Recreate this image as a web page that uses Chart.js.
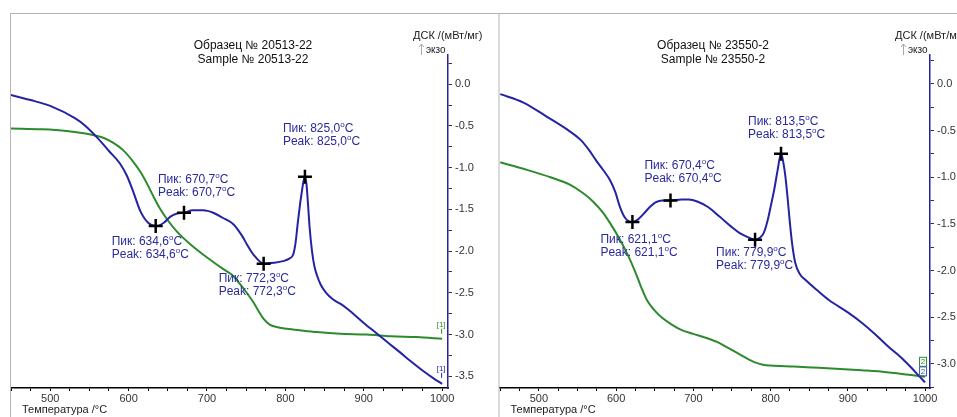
<!DOCTYPE html>
<html>
<head>
<meta charset="utf-8">
<script src="https://cdn.jsdelivr.net/npm/chart.js@4.4.1/dist/chart.umd.min.js"></script>
<style>
  body { margin: 0; background: #fff; }
  #wrap { position: relative; width: 957px; height: 417px; overflow: hidden; }
  canvas { position: absolute; top: 0; }
</style>
</head>
<body>
<div id="wrap">
  <canvas id="dscLeft" width="490" height="417" style="left:0"></canvas>
  <canvas id="dscRight" width="467" height="417" style="left:490px"></canvas>
</div>
<script>
// Sample 20513-22 (left panel)
const tempA = [450, 475, 500, 532, 545, 560, 575, 589, 598, 606, 615, 625, 634.6, 645, 653, 662, 670.7, 682, 695, 708, 720, 734, 745, 751, 760, 772.3, 785, 797, 805, 810, 813, 816, 819, 821, 823, 825, 827, 829, 831, 834, 837, 840, 845, 852, 861, 870, 879, 900, 917, 930, 946, 960, 975, 990, 1000];
const dscA = [-0.13, -0.19, -0.26, -0.41, -0.5, -0.64, -0.8, -0.95, -1.1, -1.29, -1.52, -1.66, -1.70, -1.66, -1.59, -1.55, -1.54, -1.51, -1.51, -1.54, -1.6, -1.68, -1.82, -1.92, -2.05, -2.15, -2.14, -2.12, -2.09, -2.04, -1.9, -1.65, -1.42, -1.29, -1.17, -1.11, -1.2, -1.45, -1.72, -2.0, -2.18, -2.28, -2.4, -2.5, -2.58, -2.63, -2.69, -2.86, -2.99, -3.09, -3.21, -3.32, -3.43, -3.53, -3.59];
const tgTempA = [450, 490, 521, 545, 560, 570, 580, 593, 606, 615, 624, 632, 640, 650, 662, 679, 695, 708, 720, 734, 740, 750, 759, 766, 772, 780, 789, 802, 820, 840, 870, 904, 935, 968, 1000];
const tgA = [-0.53, -0.54, -0.56, -0.59, -0.62, -0.65, -0.70, -0.79, -0.93, -1.05, -1.2, -1.35, -1.49, -1.63, -1.77, -1.92, -2.04, -2.13, -2.21, -2.30, -2.37, -2.49, -2.61, -2.72, -2.81, -2.88, -2.91, -2.93, -2.95, -2.97, -2.99, -3.0, -3.02, -3.03, -3.05];
const peakTempA = [634.6, 670.7, 772.3, 825.0];
const peakDscA = [-1.70, -1.54, -2.15, -1.11];
const peakTextA = ['634,6', '670,7', '772,3', '825,0'];

// Sample 23550-2 (right panel)
const tempB = [450, 480, 510, 535, 554, 565, 574, 583, 592, 599, 605, 612, 621.1, 630, 638, 645, 651, 660, 670.4, 685, 694, 705, 719, 735, 749, 760, 770, 779.9, 786, 791, 796, 800, 805, 809, 813.5, 816, 819, 822, 825, 828, 832, 838, 845, 860, 876, 900, 918, 935, 953, 970, 982, 992, 1000];
const dscB = [-0.11, -0.2, -0.35, -0.48, -0.6, -0.71, -0.82, -0.92, -1.03, -1.16, -1.32, -1.44, -1.48, -1.44, -1.37, -1.31, -1.27, -1.25, -1.25, -1.24, -1.24, -1.26, -1.32, -1.43, -1.53, -1.6, -1.64, -1.67, -1.65, -1.6, -1.47, -1.32, -1.12, -0.93, -0.75, -0.82, -0.98, -1.22, -1.49, -1.72, -1.92, -2.04, -2.10, -2.21, -2.32, -2.45, -2.56, -2.68, -2.82, -2.94, -3.04, -3.13, -3.2];
const tgTempB = [450, 480, 515, 540, 557, 570, 583, 595, 605, 615, 625, 632, 640, 650, 660, 672, 685, 700, 719, 732, 745, 760, 778, 790, 800, 830, 855, 890, 918, 950, 982, 1000];
const tgB = [-0.84, -0.91, -1.0, -1.08, -1.17, -1.26, -1.38, -1.53, -1.67, -1.83, -2.02, -2.17, -2.32, -2.43, -2.51, -2.58, -2.64, -2.68, -2.73, -2.77, -2.83, -2.9, -2.98, -3.01, -3.02, -3.03, -3.04, -3.055, -3.07, -3.09, -3.12, -3.14];
const peakTempB = [621.1, 670.4, 779.9, 813.5];
const peakDscB = [-1.48, -1.25, -1.67, -0.75];
const peakTextB = ['621,1', '670,4', '779,9', '813,5'];

const BLUE = '#2323a3';
const GREEN = '#2d8a2d';
const LABEL_BLUE = '#2a2a9c';
const FONT = '"Liberation Sans", Arial, sans-serif';

Chart.defaults.font.family = FONT;

function pts(xs, ys) {
  return xs.map((x, i) => ({ x: x, y: ys[i] }));
}

// text with a superscript "o" in place of the degree sign
function drawDeg(ctx, text, x, y) {
  const i = text.indexOf('°');
  const a = text.slice(0, i), b = text.slice(i + 1);
  ctx.font = '12px ' + FONT;
  ctx.fillText(a, x, y);
  let w = ctx.measureText(a).width;
  ctx.font = '8px ' + FONT;
  ctx.fillText('o', x + w, y - 4);
  w += ctx.measureText('o').width;
  ctx.font = '12px ' + FONT;
  ctx.fillText(b, x + w, y);
}

const panelPlugin = {
  id: 'panel',
  afterDraw(chart, args, opts) {
    const ctx = chart.ctx;
    const ca = chart.chartArea;
    const xs = chart.scales.x, ys = chart.scales.y;
    ctx.save();

    // grey frame
    ctx.strokeStyle = '#b4b4b4';
    ctx.lineWidth = 1;
    ctx.beginPath();
    ctx.moveTo(opts.topFrom, 13.5);
    ctx.lineTo(chart.width, 13.5);
    ctx.moveTo(ca.left - 0.5, 13);
    ctx.lineTo(ca.left - 0.5, chart.height);
    ctx.stroke();

    // sample title
    ctx.fillStyle = '#111';
    ctx.textAlign = 'center';
    ctx.textBaseline = 'middle';
    ctx.font = '12px ' + FONT;
    ctx.fillText(opts.title[0], opts.titleX, 46);
    ctx.fillText(opts.title[1], opts.titleX, 60);

    // axis titles
    ctx.textAlign = 'left';
    ctx.font = '11px ' + FONT;
    ctx.fillStyle = '#222';
    ctx.fillText('ДСК /(мВт/мг)', ca.right - 35, 36);
    // small grey "exo up" arrow
    const ax = ca.right - 26.5;
    ctx.strokeStyle = '#a8a8a8';
    ctx.beginPath();
    ctx.moveTo(ax, 55);
    ctx.lineTo(ax, 44);
    ctx.moveTo(ax - 2.5, 47);
    ctx.lineTo(ax, 44);
    ctx.lineTo(ax + 2.5, 47);
    ctx.stroke();
    ctx.fillStyle = '#222';
    ctx.font = '10px ' + FONT;
    ctx.fillText('экзо', ca.right - 22, 50);
    ctx.font = '11px ' + FONT;
    ctx.fillText('Температура /°C', ca.left + 11, 410);

    // peak labels
    ctx.fillStyle = LABEL_BLUE;
    opts.peakT.forEach((t, i) => {
      const px = xs.getPixelForValue(t) + opts.labelOff[i][0];
      const py = ys.getPixelForValue(opts.peakV[i]) + opts.labelOff[i][1];
      drawDeg(ctx, 'Пик: ' + opts.peakText[i] + '°C', px, py);
      drawDeg(ctx, 'Peak: ' + opts.peakText[i] + '°C', px, py + 13);
    });

    // curve end tags
    ctx.textAlign = 'center';
    ctx.font = '8px ' + FONT;
    opts.tags.forEach(tag => {
      const data = chart.data.datasets[tag.ds].data;
      const last = data[data.length - 1];
      const px = xs.getPixelForValue(last.x) + tag.dx;
      const py = ys.getPixelForValue(last.y) + tag.dy;
      ctx.fillStyle = tag.color;
      ctx.strokeStyle = tag.color;
      ctx.fillText(tag.text, px, py);
      if (tag.box) {
        ctx.strokeRect(px - 3.5, py - 4.5, 7, 9);
      } else {
        ctx.beginPath();
        ctx.moveTo(px + 0.5, py + 4);
        ctx.lineTo(px + 0.5, py + 9);
        ctx.stroke();
      }
    });
    ctx.restore();
  }
};

function makeChart(id, cfg) {
  const ctx = document.getElementById(id).getContext('2d');
  return new Chart(ctx, {
    type: 'line',
    data: {
      datasets: [
        {
          data: pts(cfg.peakT, cfg.peakV),
          showLine: false,
          pointStyle: 'cross',
          pointRadius: 7,
          pointBorderWidth: 2.5,
          pointBorderColor: '#000',
          borderColor: '#000'
        },
        {
          data: pts(cfg.t, cfg.dsc),
          borderColor: BLUE,
          borderWidth: 2,
          pointRadius: 0,
          cubicInterpolationMode: 'monotone'
        },
        {
          data: pts(cfg.tgT, cfg.tg),
          borderColor: GREEN,
          borderWidth: 2,
          pointRadius: 0,
          cubicInterpolationMode: 'monotone'
        }
      ]
    },
    options: {
      responsive: false,
      animation: false,
      events: [],
      layout: { padding: { left: cfg.padLeft, top: 55, right: 0, bottom: 0 } },
      plugins: {
        legend: { display: false },
        tooltip: { enabled: false },
        panel: {
          title: cfg.title,
          titleX: cfg.titleX,
          topFrom: cfg.topFrom,
          peakT: cfg.peakT,
          peakV: cfg.peakV,
          peakText: cfg.peakText,
          labelOff: cfg.labelOff,
          tags: cfg.tags
        }
      },
      scales: {
        x: {
          type: 'linear',
          min: cfg.xMin,
          max: cfg.xMax,
          afterFit: s => { s.height = 29; },
          border: { color: '#000', width: 1.5 },
          grid: { drawOnChartArea: false, tickLength: 3, color: '#000' },
          ticks: {
            stepSize: 25,
            includeBounds: false,
            autoSkip: false,
            maxRotation: 0,
            padding: 1,
            color: '#333',
            font: { size: 11 },
            callback: v => (v % 100 === 0 ? String(v) : '')
          }
        },
        y: {
          position: 'right',
          min: cfg.yMin,
          max: cfg.yMax,
          afterFit: s => { s.width = cfg.yWidth; },
          border: { color: BLUE, width: 1.5 },
          grid: { drawOnChartArea: false, tickLength: 4, color: '#333' },
          ticks: {
            stepSize: 0.25,
            includeBounds: false,
            autoSkip: false,
            padding: 3,
            color: '#333',
            font: { size: 11 },
            callback: v => (Math.abs(v % 0.5) < 1e-6 ? v.toFixed(1) : '')
          }
        }
      }
    },
    plugins: [panelPlugin]
  });
}

makeChart('dscLeft', {
  t: tempA, dsc: dscA, tgT: tgTempA, tg: tgA,
  peakT: peakTempA, peakV: peakDscA, peakText: peakTextA,
  labelOff: [[-44, 16], [-26, -33], [-45, 15], [-22, -48]],
  title: ['Образец № 20513-22', 'Sample № 20513-22'],
  titleX: 253, topFrom: 11, padLeft: 11, yWidth: 42,
  xMin: 450, xMax: 1007.5, yMin: -3.64, yMax: 0.35,
  tags: [
    { ds: 2, text: '[1]', color: GREEN, dx: -1, dy: -14 },
    { ds: 1, text: '[1]', color: BLUE, dx: -1, dy: -15 }
  ]
});

makeChart('dscRight', {
  t: tempB, dsc: dscB, tgT: tgTempB, tg: tgB,
  peakT: peakTempB, peakV: peakDscB, peakText: peakTextB,
  labelOff: [[-32, 18], [-26, -35], [-39, 13], [-33, -32]],
  title: ['Образец № 23550-2', 'Sample № 23550-2'],
  titleX: 223, topFrom: 0, padLeft: 3, yWidth: 27,
  xMin: 449, xMax: 1006.4, yMin: -3.26, yMax: 0.31,
  tags: [
    { ds: 2, text: '2', color: GREEN, dx: -2, dy: -15, box: true },
    { ds: 1, text: '2', color: '#3a5ab0', dx: -2, dy: -11, box: true }
  ]
});
</script>
</body>
</html>
